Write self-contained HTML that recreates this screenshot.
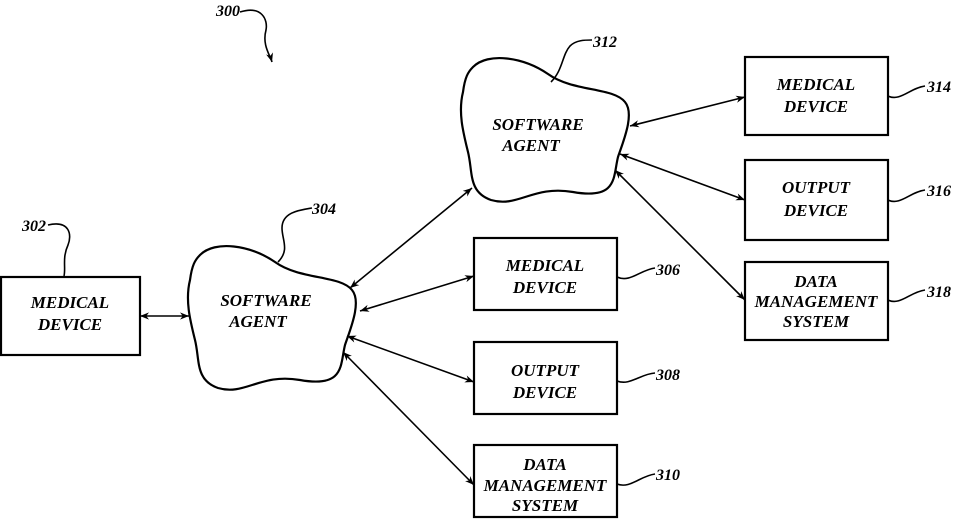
<!DOCTYPE html>
<html><head><style>body{margin:0;background:#fff}</style></head><body>
<svg width="966" height="526" viewBox="0 0 966 526" xmlns="http://www.w3.org/2000/svg" font-family="Liberation Serif, serif" font-weight="bold" font-style="italic">
<defs>
<marker id="a" viewBox="0 0 10 10" refX="10" refY="5" markerWidth="9" markerHeight="9" orient="auto-start-reverse" markerUnits="userSpaceOnUse"><path d="M0,1 L10,5 L0,9 L3,5 Z" fill="#000"/></marker>
<path id="cl" d="M200,255 C215,240 250,245 275,262 C300,280 340,275 352,290 C362,302 350,330 345,345 C340,365 345,388 300,380 C260,373 245,396 218,388 C195,380 200,360 195,340 C190,320 185,300 190,280 C192,265 195,260 200,255 Z"/>
</defs>
<g fill="none" stroke="#000" stroke-width="2.2">
<use href="#cl"/>
<use href="#cl" transform="translate(273,-188)"/>
<rect x="1" y="277" width="139" height="78"/>
<rect x="474" y="238" width="143" height="72"/>
<rect x="474" y="342" width="143" height="72"/>
<rect x="474" y="445" width="143" height="72"/>
<rect x="745" y="57" width="143" height="78"/>
<rect x="745" y="160" width="143" height="80"/>
<rect x="745" y="262" width="143" height="78"/>
</g>
<g fill="none" stroke="#000" stroke-width="1.6">
<path d="M240,12 C262,5 268,20 266,30 C262,45 270,55 272,62" marker-end="url(#a)"/>
<path d="M48,225 C70,220 72,235 68,245 C62,258 66,268 64,276"/>
<path d="M278,262 C290,250 282,240 282,228 C282,212 300,210 312,208"/>
<path d="M551,82 C563,70 562,55 570,46 C576,40 585,40 592,40"/>
<path d="M617,277 C630,283 640,270 655,268"/>
<path d="M617,381 C630,386 640,374 655,373"/>
<path d="M617,484 C630,489 640,476 655,474"/>
<path d="M888,96 C900,102 910,88 925,86"/>
<path d="M888,200 C900,206 910,192 925,190"/>
<path d="M888,300 C900,306 910,292 925,290"/>
<g stroke-width="1.6" marker-start="url(#a)" marker-end="url(#a)">
<line x1="140" y1="316" x2="189" y2="316"/>
<line x1="350" y1="288" x2="472" y2="188"/>
<line x1="360" y1="311" x2="474" y2="276"/>
<line x1="347" y1="336" x2="474" y2="382"/>
<line x1="343" y1="352" x2="474" y2="485"/>
<line x1="630" y1="126" x2="745" y2="97"/>
<line x1="620" y1="154" x2="745" y2="200"/>
<line x1="615" y1="170" x2="745" y2="300"/>
</g>
</g>
<g font-size="17" text-anchor="middle" fill="#000">
<text x="70" y="308">MEDICAL</text><text x="70" y="330">DEVICE</text>
<text x="266" y="306">SOFTWARE</text><text x="258" y="327">AGENT</text>
<text x="538" y="130">SOFTWARE</text><text x="531" y="151">AGENT</text>
<text x="545" y="271">MEDICAL</text><text x="545" y="293">DEVICE</text>
<text x="545" y="376">OUTPUT</text><text x="545" y="398">DEVICE</text>
<text x="545" y="470">DATA</text><text x="545" y="491">MANAGEMENT</text><text x="545" y="511">SYSTEM</text>
<text x="816" y="90">MEDICAL</text><text x="816" y="112">DEVICE</text>
<text x="816" y="193">OUTPUT</text><text x="816" y="216">DEVICE</text>
<text x="816" y="287">DATA</text><text x="816" y="307">MANAGEMENT</text><text x="816" y="327">SYSTEM</text>
</g>
<g font-size="16" fill="#000">
<text x="216" y="16">300</text>
<text x="22" y="231">302</text>
<text x="312" y="214">304</text>
<text x="593" y="47">312</text>
<text x="656" y="275">306</text>
<text x="656" y="380">308</text>
<text x="656" y="480">310</text>
<text x="927" y="92">314</text>
<text x="927" y="196">316</text>
<text x="927" y="297">318</text>
</g>
</svg>
</body></html>
